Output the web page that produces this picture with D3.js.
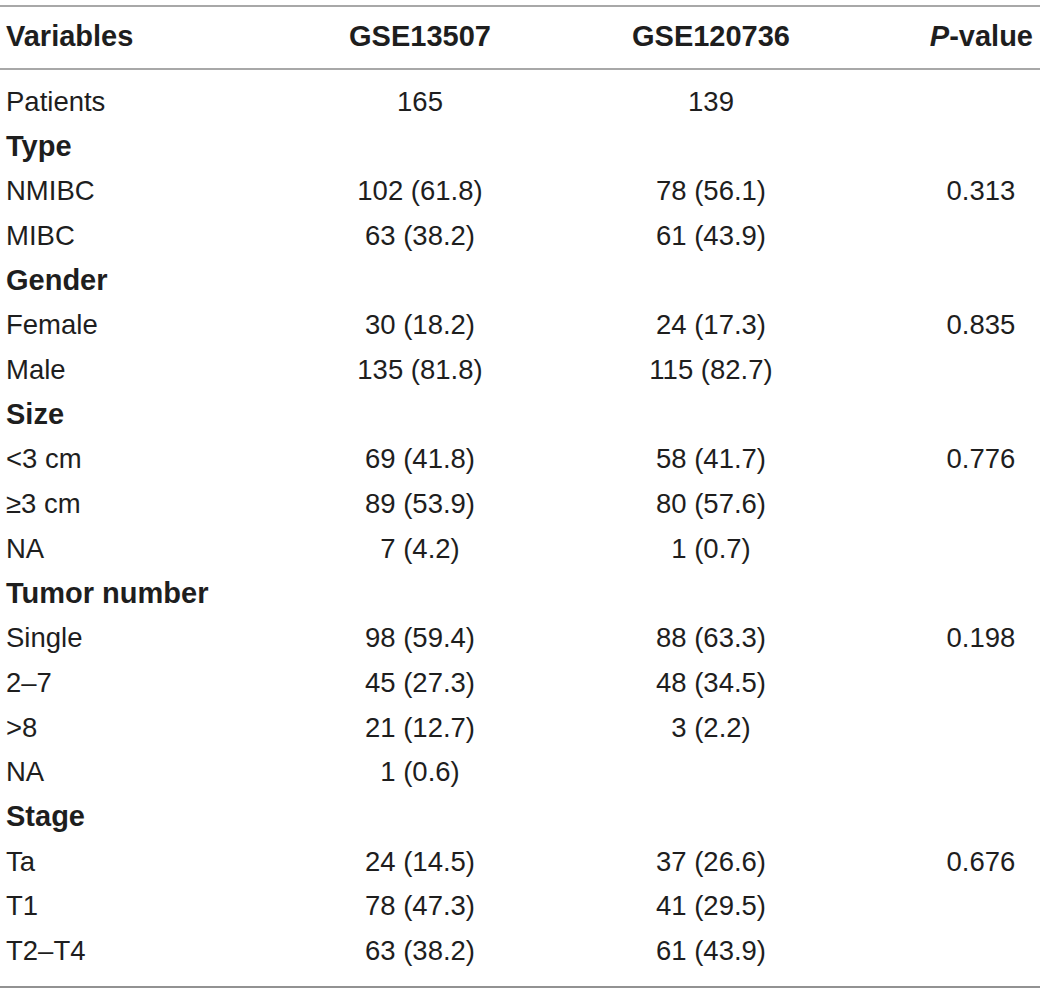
<!DOCTYPE html>
<html>
<head>
<meta charset="utf-8">
<script src="https://cdn.jsdelivr.net/npm/d3@7"></script>
<style>
  html, body { margin: 0; padding: 0; background: #fff; }
  svg { display: block; }
</style>
</head>
<body>
<div id="chart"></div>
<script>
// Table content
const headers = ['Variables', 'GSE13507', 'GSE120736', 'P-value']
const labels = [
  'Patients', 'Type', 'NMIBC', 'MIBC', 'Gender', 'Female', 'Male',
  'Size', '<3 cm', '≥3 cm', 'NA', 'Tumor number', 'Single', '2–7', '>8', 'NA',
  'Stage', 'Ta', 'T1', 'T2–T4'
]
const groupRows = ['Type', 'Gender', 'Size', 'Tumor number', 'Stage']
const gse13507 = [
  '165', '', '102 (61.8)', '63 (38.2)', '', '30 (18.2)', '135 (81.8)',
  '', '69 (41.8)', '89 (53.9)', '7 (4.2)', '', '98 (59.4)', '45 (27.3)', '21 (12.7)', '1 (0.6)',
  '', '24 (14.5)', '78 (47.3)', '63 (38.2)'
]
const gse120736 = [
  '139', '', '78 (56.1)', '61 (43.9)', '', '24 (17.3)', '115 (82.7)',
  '', '58 (41.7)', '80 (57.6)', '1 (0.7)', '', '88 (63.3)', '48 (34.5)', '3 (2.2)', '',
  '', '37 (26.6)', '41 (29.5)', '61 (43.9)'
]
const pValues = [
  '', '', '0.313', '', '', '0.835', '',
  '', '0.776', '', '', '', '0.198', '', '', '',
  '', '0.676', '', ''
]

const width = 1040
const height = 991
const font = '"Liberation Sans", Arial, Helvetica, sans-serif'
const textColor = '#1e1e1e'
const fontSize = 27.5
const boldSize = 29

const svg = d3.select('#chart')
  .append('svg')
  .attr('width', width)
  .attr('height', height)

// baseline of each body row
const y = d3.scaleLinear()
  .domain([0, labels.length - 1])
  .range([111, 960])

const colX = { label: 6, c1: 420, c2: 711, p: 981 }

// Rules
svg.append('line')
  .attr('x1', 0).attr('x2', width)
  .attr('y1', 6).attr('y2', 6)
  .attr('stroke', '#a8a8a8').attr('stroke-width', 2)
svg.append('line')
  .attr('x1', 0).attr('x2', width)
  .attr('y1', 69).attr('y2', 69)
  .attr('stroke', '#a8a8a8').attr('stroke-width', 2)
svg.append('line')
  .attr('x1', 0).attr('x2', width)
  .attr('y1', 987).attr('y2', 987)
  .attr('stroke', '#6e6e6e').attr('stroke-width', 1.5)

// Header
const headG = svg.append('g')
  .attr('font-family', font)
  .attr('font-size', boldSize)
  .attr('font-weight', 'bold')
  .attr('fill', textColor)

headG.append('text')
  .attr('x', colX.label).attr('y', 46)
  .text(headers[0])
headG.append('text')
  .attr('x', colX.c1).attr('y', 46)
  .attr('text-anchor', 'middle')
  .text(headers[1])
headG.append('text')
  .attr('x', colX.c2).attr('y', 46)
  .attr('text-anchor', 'middle')
  .text(headers[2])
const pHead = headG.append('text')
  .attr('x', 1033).attr('y', 46)
  .attr('text-anchor', 'end')
pHead.append('tspan').attr('font-style', 'italic').text(headers[3].slice(0, 1))
pHead.append('tspan').text(headers[3].slice(1))

// Body
const bodyG = svg.append('g')
  .attr('font-family', font)
  .attr('font-size', fontSize)
  .attr('fill', textColor)

bodyG.selectAll('text.label')
  .data(labels)
  .join('text')
  .attr('class', 'label')
  .attr('x', colX.label)
  .attr('y', (d, i) => y(i))
  .attr('font-weight', d => groupRows.includes(d) ? 'bold' : 'normal')
  .attr('font-size', d => groupRows.includes(d) ? boldSize : fontSize)
  .text(d => d)

const cols = [
  { key: 'c1', values: gse13507 },
  { key: 'c2', values: gse120736 },
  { key: 'p', values: pValues },
]

cols.forEach(col => {
  bodyG.selectAll(`text.${col.key}`)
    .data(col.values)
    .join('text')
    .attr('class', col.key)
    .attr('x', colX[col.key])
    .attr('y', (d, i) => y(i))
    .attr('text-anchor', 'middle')
    .text(d => d)
})
</script>
</body>
</html>
